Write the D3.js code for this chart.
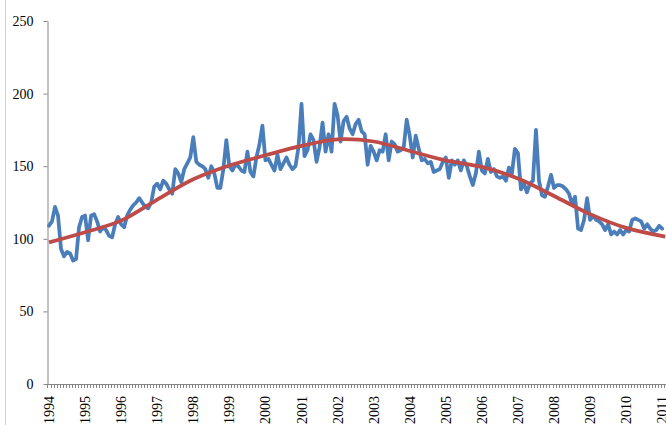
<!DOCTYPE html>
<html>
<head>
<meta charset="utf-8">
<script src="https://cdn.jsdelivr.net/npm/d3@7"></script>
<style>
  html, body { margin: 0; padding: 0; background: #ffffff; }
  svg { display: block; }
</style>
</head>
<body>
<div id="chart"></div>
<script>
// ---- Data (monthly, Jan 1994 .. Jan 2011) ----
const yearLabels = ["1994","1995","1996","1997","1998","1999","2000","2001","2002",
                    "2003","2004","2005","2006","2007","2008","2009","2010","2011"];
const yTicks = [0, 50, 100, 150, 200, 250];

const monthlyValues = [
  109,112,122,116,93,88,91,90,85,86,
  108,115,116,99,116,117,112,105,108,106,
  102,101,110,115,110,108,116,120,123,125,
  128,125,122,121,125,136,138,134,140,138,
  134,131,148,145,139,148,152,156,170,153,
  151,150,148,142,150,145,135,135,148,168,
  150,147,151,150,147,146,160,146,143,156,
  165,178,154,155,151,147,158,148,152,156,
  151,148,150,163,193,157,161,172,168,153,
  163,180,160,172,160,193,185,167,181,184,
  176,172,179,182,174,172,151,164,160,154,
  161,160,172,154,167,165,160,161,163,182,
  171,156,171,162,154,155,152,153,146,147,
  148,153,156,142,154,151,154,147,154,150,
  143,137,145,160,147,145,155,146,148,143,
  142,143,140,149,145,162,159,134,138,132,
  138,140,175,140,130,129,136,144,135,137,
  137,136,134,131,124,129,107,106,113,128,
  113,116,113,112,110,106,110,103,105,103,
  106,103,106,105,113,114,113,112,107,110,
  107,105,106,109,107
];

// trend line at month positions
const trendMonths = [0, 12, 24, 36, 48, 60, 72, 84, 96, 108, 120, 132, 144, 156, 168, 180, 192, 205];
const trendValues = [97.5, 104.5, 112.5, 127, 141, 150.5, 157.5, 164, 168.5, 167, 160.5, 154, 149.5, 141.5, 129.5, 117, 107.5, 101.5];

// ---- Layout ----
const W = 666, H = 425;
const plotLeft = 47, plotTop = 21, plotBottom = 384;
const catW = 3.006;

const svg = d3.select("#chart").append("svg")
  .attr("width", W).attr("height", H);

// chart-area border line on far left
svg.append("line")
  .attr("x1", 5.5).attr("x2", 5.5).attr("y1", 0).attr("y2", H)
  .attr("stroke", "#d0d0d0").attr("stroke-width", 1);

const x = d3.scaleLinear().domain([0, 1]).range([plotLeft + 2, plotLeft + 2 + catW]);
const y = d3.scaleLinear().domain([0, 250]).range([plotBottom, plotTop]);

const axisColor = "#868686";
const fontFam = "'Liberation Serif', 'Times New Roman', serif";

// Y axis
const yAxis = d3.axisLeft(y).tickValues(yTicks).tickSize(4).tickSizeOuter(0).tickPadding(10);
const gy = svg.append("g").attr("transform", `translate(${plotLeft + 0.5},0)`).call(yAxis);
gy.select(".domain").attr("stroke", axisColor);
gy.selectAll(".tick line").attr("stroke", axisColor);
gy.selectAll(".tick text")
  .attr("font-family", fontFam).attr("font-size", 14).attr("fill", "#000");

// X axis: line + minor tick per month
const gx = svg.append("g");
gx.append("line")
  .attr("x1", plotLeft).attr("x2", W).attr("y1", plotBottom + 0.5).attr("y2", plotBottom + 0.5)
  .attr("stroke", axisColor).attr("stroke-width", 1);
const boundaries = d3.range(0, 208);
gx.selectAll("line.mt").data(boundaries).enter().append("line")
  .attr("class", "mt")
  .attr("x1", d => Math.round(x(d) - catW / 2) + 0.5)
  .attr("x2", d => Math.round(x(d) - catW / 2) + 0.5)
  .attr("y1", plotBottom).attr("y2", plotBottom + 4)
  .attr("stroke", axisColor).attr("stroke-width", 1);

gx.selectAll("text.yl").data(yearLabels).enter().append("text")
  .attr("class", "yl")
  .attr("transform", (d, i) => `translate(${x(i * 12) + 0.5},396) rotate(-90)`)
  .attr("text-anchor", "end")
  .attr("dominant-baseline", "central")
  .attr("font-family", fontFam).attr("font-size", 14).attr("fill", "#000")
  .text(d => d);

// Data line
const line = d3.line()
  .x((d, i) => x(i))
  .y(d => y(d));

svg.append("path")
  .datum(monthlyValues)
  .attr("fill", "none")
  .attr("stroke", "#4A7EBB")
  .attr("stroke-width", 3.75)
  .attr("stroke-linejoin", "round")
  .attr("stroke-linecap", "round")
  .attr("d", line);

// Trend line
const trendLine = d3.line()
  .x(d => x(d[0]))
  .y(d => y(d[1]))
  .curve(d3.curveCatmullRom);

svg.append("path")
  .datum(trendMonths.map((m, i) => [m, trendValues[i]]))
  .attr("fill", "none")
  .attr("stroke", "#BE4B48")
  .attr("stroke-width", 3.75)
  .attr("stroke-linecap", "butt")
  .attr("d", trendLine);
</script>
</body>
</html>
